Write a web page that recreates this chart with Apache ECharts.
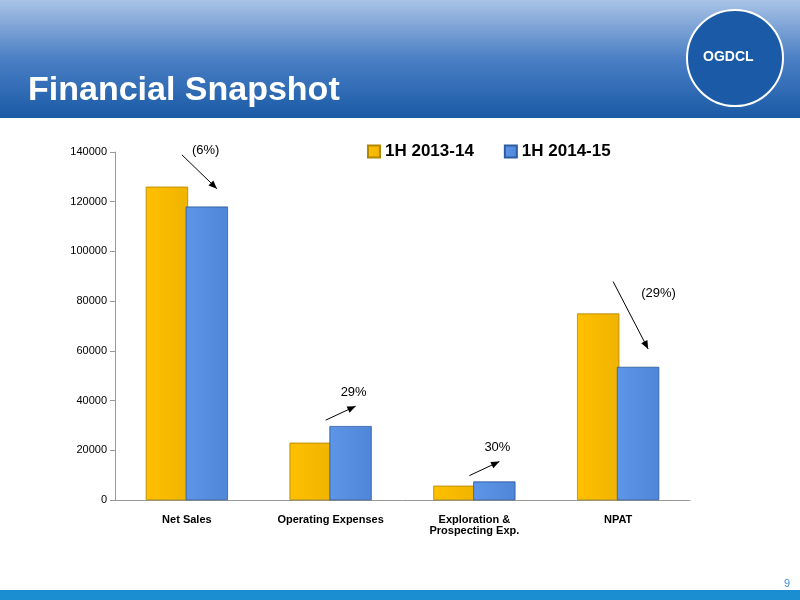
<!DOCTYPE html>
<html><head><meta charset="utf-8">
<script src="https://cdn.jsdelivr.net/npm/echarts@6/dist/echarts.min.js"></script>
<style>html,body{margin:0;padding:0;background:#fff}#c{width:800px;height:600px}</style>
</head><body><div id="c"></div>
<script>
const categories = ['Net Sales','Operating Expenses','Exploration &\nProspecting Exp.','NPAT'];
const series1Name = '1H 2013-14';
const series2Name = '1H 2014-15';
const values1 = [126000, 23000, 5700, 75000];
const values2 = [118000, 29700, 7400, 53500];
const changeLabels = ['(6%)','29%','30%','(29%)'];

const F='Liberation Sans, Arial, sans-serif';
const chart = echarts.init(document.getElementById('c'));
chart.setOption({
  animation:false,
  legend:{top:138,left:362,itemWidth:12,itemHeight:12,itemGap:30,icon:'rect',
    textStyle:{fontSize:17,fontWeight:'bold',color:'#000',fontFamily:F},
    data:[series1Name,series2Name]},
  grid:{left:115,right:110,top:152,bottom:100},
  xAxis:{type:'category',data:categories,
    axisLine:{lineStyle:{color:'#999'}},axisTick:{show:false},
    axisLabel:{fontSize:11,fontWeight:'bold',color:'#000',fontFamily:F,margin:14,interval:0}},
  yAxis:{type:'value',min:0,max:140000,interval:20000,
    axisLine:{show:true,lineStyle:{color:'#999'}},axisTick:{show:true},splitLine:{show:false},
    axisLabel:{fontSize:11,color:'#000',fontFamily:F,formatter:v=>String(v)}},
  series:[
    {name:series1Name,type:'bar',data:values1,barWidth:42,barGap:'-5%',
      itemStyle:{color:new echarts.graphic.LinearGradient(0,0,1,0,[{offset:0,color:'#ffc000'},{offset:1,color:'#f0b400'}]),borderColor:'#b38600',borderWidth:0.5}},
    {name:series2Name,type:'bar',data:values2,barWidth:42,
      itemStyle:{color:new echarts.graphic.LinearGradient(0,0,1,0,[{offset:0,color:'#5d95e8'},{offset:1,color:'#4f86d8'}]),borderColor:'#2f5c9e',borderWidth:0.5}}
  ]
});
const g=[
  {type:'rect',shape:{x:0,y:0,width:800,height:118},style:{fill:new echarts.graphic.LinearGradient(0,0,0,1,[{offset:0,color:'#a9c3e6'},{offset:0.5,color:'#4a7fc4'},{offset:1,color:'#1a5aa6'}])}},
  {type:'text',left:28,top:74,style:{text:'Financial Snapshot',fill:'#fff',font:'bold 34px '+F}},
  {type:'circle',shape:{cx:735,cy:58,r:48},style:{fill:'#1a5aa6',stroke:'#fff',lineWidth:2}},
  {type:'text',left:703,top:50,style:{text:'OGDCL',fill:'#fff',font:'bold 14px '+F}},
  {type:'rect',shape:{x:0,y:590,width:800,height:10},style:{fill:'#1a8ed0'}},
  {type:'text',right:10,top:578,style:{text:'9',fill:'#3b8fd6',font:'11px '+F}}
];
categories.forEach((c,i)=>{
  const a=chart.convertToPixel({seriesIndex:0},[i,values1[i]]);
  const b=chart.convertToPixel({seriesIndex:1},[i,values2[i]]);
  const dec = values2[i]<values1[i];
  let x1,y1,x2,y2;
  if(dec){x1=a[0]-5;y1=a[1]-32;x2=b[0]+30;y2=b[1]-18;}
  else{x1=a[0]-5;y1=b[1]-6;x2=b[0]+25;y2=b[1]-20;}
  g.push({type:'line',shape:{x1,y1,x2,y2},style:{stroke:'#000',lineWidth:1}});
  const ang=Math.atan2(y2-y1,x2-x1);
  g.push({type:'polygon',shape:{points:[[x2,y2],[x2-9*Math.cos(ang-0.4),y2-9*Math.sin(ang-0.4)],[x2-9*Math.cos(ang+0.4),y2-9*Math.sin(ang+0.4)]]},style:{fill:'#000'}});
  const tx = dec ? (i===0 ? x1+10 : x1+28) : (x1+x2)/2;
  const ty = dec ? (i===0 ? y1-4 : y1+12) : Math.min(y1,y2)-14;
  g.push({type:'text',x:tx,y:ty,style:{text:changeLabels[i],font:'13px '+F,fill:'#000',align:'left',verticalAlign:'middle'}});
});
chart.setOption({graphic:g});
</script></body></html>
